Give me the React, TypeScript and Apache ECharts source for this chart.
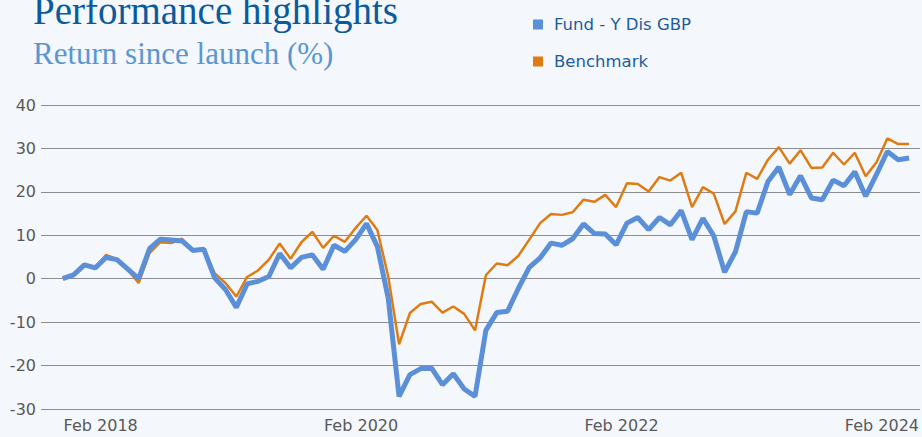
import React, { useEffect, useRef } from "react";
import * as echarts from "echarts";

// Monthly observations, index 0 = launch month
const fundName = "Fund - Y Dis GBP";
const benchName = "Benchmark";

const fund = [
  0, 0.9, 3.2, 2.5, 4.9, 4.4, 2.2, 0, 6.9, 9.1,
  8.9, 8.7, 6.5, 6.8, 0.2, -2.5, -6.6, -1.2, -0.6, 0.5,
  5.8, 2.5, 4.9, 5.5, 2.2, 7.7, 6.3, 9.0, 12.7, 7.4,
  -4.5, -27.1, -22.1, -20.7, -20.6, -24.4, -21.9, -25.4, -27.1, -11.9,
  -7.8, -7.5, -2.2, 2.6, 4.8, 8.2, 7.7, 9.2, 12.6, 10.4,
  10.3, 7.8, 12.8, 14.1, 11.3, 14.1, 12.4, 15.7, 9.0, 13.9,
  9.9, 1.5, 6.2, 15.4, 15.1, 22.4, 25.7, 19.4, 23.7, 18.6,
  18.2, 22.7, 21.4, 24.6, 19.0, 24.0, 29.3, 27.4, 27.8,
];

const benchmark = [
  0, 0.8, 3.2, 2.5, 5.5, 4.5, 2.0, -1.0, 5.9, 8.4,
  8.2, 9.2, 6.5, 7.0, 1.3, -1.0, -4.1, 0.4, 1.9, 4.4,
  8.1, 4.6, 8.4, 10.8, 7.1, 9.9, 8.5, 11.7, 14.5, 11.2,
  0.5, -15.1, -7.9, -5.8, -5.3, -7.8, -6.4, -8.1, -11.9, 0.8,
  3.5, 3.1, 5.3, 9.0, 12.8, 14.9, 14.7, 15.3, 18.2, 17.7,
  19.3, 16.5, 22.0, 21.8, 20.1, 23.4, 22.6, 24.4, 16.5, 21.1,
  19.6, 12.6, 15.5, 24.4, 23.0, 27.4, 30.3, 26.5, 29.6, 25.5,
  25.6, 29.0, 26.3, 29.0, 23.6, 26.8, 32.3, 31.0, 31.0,
];

// x tick labels and the month index (from launch) at which each sits
const xTickLabels = ["Feb 2018", "Feb 2020", "Feb 2022", "Feb 2024"];
const xTickMonths = [3.5, 27.5, 51.5, 75.5];

const yMin = -30;
const yMax = 40;
const yStep = 10;

export default function App() {
  const ref = useRef<HTMLDivElement>(null);

  useEffect(() => {
    document.body.style.margin = "0";
    if (!ref.current) return;
    const chart = echarts.init(ref.current, undefined, { renderer: "svg" });
    const toPairs = (arr: number[]) => arr.map((v, i) => [i, v]);
    chart.setOption({
      animation: false,
      backgroundColor: "#F4F7FC",
      graphic: [
        {
          type: "text",
          left: 33,
          top: -9,
          style: {
            text: "Performance highlights",
            font: '39px "Liberation Serif"',
            fill: "#0B5A9C",
          },
        },
        {
          type: "text",
          left: 33,
          top: 38,
          style: {
            text: "Return since launch (%)",
            font: '31px "Liberation Serif"',
            fill: "#5A96D2",
          },
        },
      ],
      legend: {
        orient: "vertical",
        left: 533,
        top: 16,
        padding: 0,
        icon: "rect",
        itemWidth: 10,
        itemHeight: 10,
        itemGap: 20,
        data: [fundName, benchName],
        textStyle: {
          fontFamily: "DejaVu Sans",
          fontSize: 16.5,
          color: "#1D5C9C",
          padding: [0, 0, 0, 6],
        },
      },
      grid: { left: 41, right: 0, top: 105, bottom: 28, containLabel: false },
      xAxis: {
        type: "value",
        min: -2,
        max: 79,
        splitLine: { show: false },
        axisTick: { show: false },
        axisLine: { show: false },
        axisLabel: {
          customValues: xTickMonths,
          formatter: (v: number) => {
            const k = xTickMonths.indexOf(v);
            return k >= 0 ? xTickLabels[k] : "";
          },
          fontFamily: "DejaVu Sans",
          fontSize: 16,
          color: "#595959",
          margin: 8,
        },
      },
      yAxis: {
        type: "value",
        min: yMin,
        max: yMax,
        interval: yStep,
        axisLine: { show: false },
        axisTick: { show: false },
        splitLine: { lineStyle: { color: "#8C8C8C", width: 1 } },
        axisLabel: {
          fontFamily: "DejaVu Sans",
          fontSize: 16,
          color: "#595959",
          margin: 5,
        },
      },
      series: [
        {
          name: benchName,
          type: "line",
          data: toPairs(benchmark),
          showSymbol: false,
          symbol: "none",
          itemStyle: { color: "#E07B12" },
          lineStyle: { color: "#E07B12", width: 2.5 },
          z: 2,
        },
        {
          name: fundName,
          type: "line",
          data: toPairs(fund),
          showSymbol: false,
          symbol: "none",
          itemStyle: { color: "#5B8FD8" },
          lineStyle: { color: "#5B8FD8", width: 5 },
          z: 3,
        },
      ],
    });
    return () => chart.dispose();
  }, []);

  return <div ref={ref} style={{ width: 922, height: 437 }} />;
}
